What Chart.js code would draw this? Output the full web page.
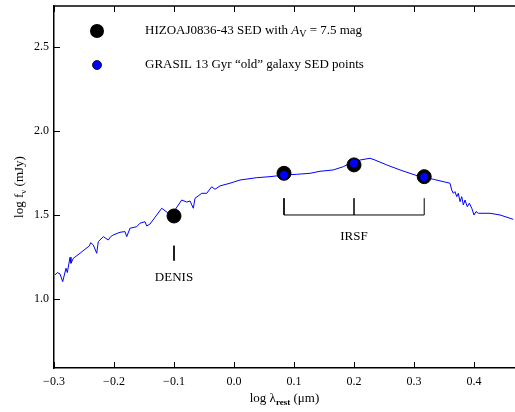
<!DOCTYPE html>
<html>
<head>
<meta charset="utf-8">
<script src="https://cdn.jsdelivr.net/npm/chart.js@4.4.0/dist/chart.umd.min.js"></script>
<style>
body { margin: 0; background: #fff; }
#wrap { width: 515px; height: 412px; }
</style>
</head>
<body>
<div id="wrap"><canvas id="sedChart"></canvas></div>
<script>
// GRASIL model spectrum (log lambda, log f_nu)
var specX = [-0.2983, -0.2945, -0.290, -0.2855, -0.280, -0.2778, -0.2733, -0.2717, -0.2678, -0.2567,
  -0.2483, -0.2412, -0.2388, -0.2345, -0.2288, -0.2262, -0.2178, -0.2095, -0.2055, -0.2012,
  -0.190, -0.1817, -0.1788, -0.1733, -0.1622, -0.1567, -0.1483, -0.1455, -0.140, -0.1205,
  -0.1095, -0.0983, -0.0872, -0.0788, -0.0733, -0.0678, -0.065, -0.0538, -0.0455, -0.0372,
  -0.0317, -0.0233, -0.0067, 0.010, 0.0378, 0.060, 0.0838, 0.1045, 0.1267, 0.1433,
  0.1655, 0.1822, 0.1933, 0.210, 0.2267, 0.235, 0.2545, 0.2767, 0.2933, 0.310,
  0.3322, 0.360, 0.3628, 0.3655, 0.3683, 0.3712, 0.3738, 0.3767, 0.3795, 0.3822,
  0.385, 0.3888, 0.3922, 0.3962, 0.400, 0.4033, 0.4072, 0.4267, 0.4433, 0.4655];
var specY = [1.143, 1.157, 1.149, 1.103, 1.183, 1.157, 1.248, 1.2125, 1.242, 1.272,
  1.296, 1.3155, 1.335, 1.321, 1.272, 1.341, 1.371, 1.351, 1.371, 1.381,
  1.397, 1.401, 1.371, 1.421, 1.430, 1.451, 1.460, 1.4345, 1.446, 1.540,
  1.510, 1.530, 1.589, 1.577, 1.583, 1.540, 1.599, 1.629, 1.629, 1.668,
  1.653, 1.673, 1.689, 1.708, 1.722, 1.728, 1.738, 1.742, 1.748, 1.760,
  1.768, 1.7875, 1.808, 1.827, 1.8375, 1.827, 1.798, 1.768, 1.748, 1.728,
  1.7125, 1.689, 1.649, 1.629, 1.639, 1.609, 1.629, 1.579, 1.609, 1.5595,
  1.589, 1.549, 1.570, 1.540, 1.500, 1.520, 1.510, 1.510, 1.500, 1.474];

// observed SED (black) and GRASIL points (blue)
var sedX = [-0.1, 0.0833, 0.2, 0.317];
var sedY = [1.494, 1.748, 1.798, 1.728];
var grasilX = [0.0833, 0.2, 0.317];
var grasilY = [1.738, 1.808, 1.726];

// filter markers
var denisX = [-0.1, -0.1];
var denisY = [1.317, 1.228];
var irsfX = [0.0833, 0.0833, 0.2, 0.2, 0.2, 0.317, 0.317];
var irsfY = [1.6, 1.5, 1.5, 1.6, 1.5, 1.5, 1.6];

var xTicks = [-0.3, -0.2, -0.1, 0.0, 0.1, 0.2, 0.3, 0.4];
var yTicks = [1.0, 1.5, 2.0, 2.5];

var serif = "'Liberation Serif', 'DejaVu Serif', serif";

function pts(xs, ys) {
  return xs.map(function (x, i) { return { x: x, y: ys[i] }; });
}

function fmt(v) {
  return (v < 0 ? '\u2212' : '') + Math.abs(v).toFixed(1);
}

// draw a run of text pieces (for sub-scripts / italics)
function richText(ctx, parts, x, y, align) {
  var w = 0;
  parts.forEach(function (p) { ctx.font = p.font; w += ctx.measureText(p.t).width; });
  var cx = align === 'center' ? x - w / 2 : x;
  parts.forEach(function (p) {
    ctx.font = p.font;
    ctx.fillText(p.t, cx, y + (p.dy || 0));
    cx += ctx.measureText(p.t).width;
  });
}

var extras = {
  id: 'extras',
  afterDraw: function (chart) {
    var ctx = chart.ctx, a = chart.chartArea;
    var xs = chart.scales.x, ys = chart.scales.y;
    ctx.save();
    ctx.strokeStyle = '#000';
    ctx.lineWidth = 1.5;
    ctx.beginPath();
    ctx.moveTo(a.left, a.top);
    ctx.lineTo(a.right, a.top);
    ctx.stroke();

    ctx.lineWidth = 1;
    ctx.beginPath();
    xTicks.forEach(function (v) {
      var px = Math.round(xs.getPixelForValue(v)) + 0.5;
      ctx.moveTo(px, a.bottom); ctx.lineTo(px, a.bottom - 6);
      ctx.moveTo(px, a.top); ctx.lineTo(px, a.top + 6);
    });
    yTicks.forEach(function (v) {
      var py = Math.round(ys.getPixelForValue(v)) + 0.5;
      ctx.moveTo(a.left, py); ctx.lineTo(a.left + 6, py);
    });
    ctx.stroke();

    ctx.fillStyle = '#000';
    ctx.textBaseline = 'middle';
    ctx.textAlign = 'center';
    ctx.font = '13px ' + serif;
    ctx.fillText('DENIS', xs.getPixelForValue(-0.1), ys.getPixelForValue(1.127));
    ctx.fillText('IRSF', xs.getPixelForValue(0.2), ys.getPixelForValue(1.371));

    // legend
    ctx.textAlign = 'left';
    ctx.beginPath();
    ctx.arc(97, 31, 7, 0, Math.PI * 2);
    ctx.fillStyle = '#000';
    ctx.fill();
    ctx.beginPath();
    ctx.arc(97, 65, 4.5, 0, Math.PI * 2);
    ctx.fillStyle = '#0000ff';
    ctx.fill();
    ctx.lineWidth = 0.8;
    ctx.stroke();
    ctx.fillStyle = '#000';
    var f = '13px ' + serif;
    richText(ctx, [
      { t: 'HIZOAJ0836-43 SED with ', font: f },
      { t: 'A', font: 'italic 13px ' + serif },
      { t: 'V', font: '10px ' + serif, dy: 3 },
      { t: ' = 7.5 mag', font: f }
    ], 145, 31, 'left');
    richText(ctx, [{ t: 'GRASIL 13 Gyr \u201cold\u201d galaxy SED points', font: f }], 145, 65, 'left');

    // axis titles
    var tf = '13px ' + serif;
    ctx.textBaseline = 'alphabetic';
    richText(ctx, [
      { t: 'log \u03bb', font: tf },
      { t: 'rest', font: 'bold 9px ' + serif, dy: 3 },
      { t: ' (\u03bcm)', font: tf }
    ], (a.left + a.right) / 2, 402, 'center');

    ctx.translate(23, (a.top + a.bottom) / 2);
    ctx.rotate(-Math.PI / 2);
    richText(ctx, [
      { t: 'log f', font: tf },
      { t: '\u03bd', font: '9px ' + serif, dy: 3 },
      { t: ' (mJy)', font: tf }
    ], 0, 0, 'center');
    ctx.restore();
  }
};

new Chart('sedChart', {
  type: 'scatter',
  data: {
    datasets: [{
      data: pts(grasilX, grasilY),
      backgroundColor: '#0000ff',
      borderColor: '#000',
      borderWidth: 0.8,
      pointRadius: 4.5,
      order: 1
    }, {
      data: pts(sedX, sedY),
      backgroundColor: '#000',
      borderColor: '#000',
      pointRadius: 7,
      order: 2
    }, {
      data: pts(specX, specY),
      showLine: true,
      borderColor: '#0000ff',
      borderWidth: 1,
      pointRadius: 0,
      order: 3
    }, {
      data: pts(denisX, denisY),
      showLine: true,
      borderColor: '#000',
      borderWidth: 1,
      pointRadius: 0,
      order: 4
    }, {
      data: pts(irsfX, irsfY),
      showLine: true,
      borderColor: '#000',
      borderWidth: 1,
      pointRadius: 0,
      order: 4
    }]
  },
  options: {
    responsive: true,
    maintainAspectRatio: false,
    animation: false,
    layout: { autoPadding: false, padding: { top: 6, right: 0, left: 0, bottom: 0 } },
    plugins: { legend: { display: false }, tooltip: { enabled: false } },
    scales: {
      x: {
        type: 'linear',
        min: -0.3,
        max: 0.4683,
        afterBuildTicks: function (s) { s.ticks = xTicks.map(function (v) { return { value: v }; }); },
        afterFit: function (s) { s.height = 44; s.paddingLeft = 0; s.paddingRight = 0; },
        grid: { display: false, drawTicks: false },
        border: { display: true, color: '#000', width: 1.5 },
        ticks: { padding: 7, color: '#000', font: { family: serif, size: 12 }, callback: fmt, maxRotation: 0 }
      },
      y: {
        min: 0.589,
        max: 2.744,
        afterBuildTicks: function (s) { s.ticks = yTicks.map(function (v) { return { value: v }; }); },
        afterFit: function (s) { s.width = 54; s.paddingTop = 0; s.paddingBottom = 0; },
        grid: { display: false, drawTicks: false },
        border: { display: true, color: '#000', width: 1.5 },
        ticks: { padding: 5, color: '#000', font: { family: serif, size: 12 }, callback: fmt }
      }
    }
  },
  plugins: [extras]
});
</script>
</body>
</html>
